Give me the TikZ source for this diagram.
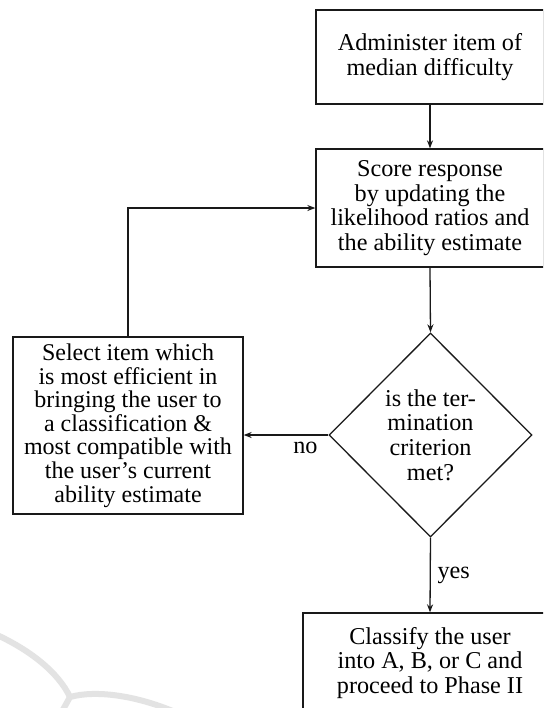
\documentclass[tikz,border=0pt]{standalone}
\usepackage{fontspec}
\setmainfont{Liberation Serif}
\usetikzlibrary{shapes.geometric,arrows.meta}
\begin{document}
\begin{tikzpicture}[x=0.5pt,y=-0.5pt,
  every node/.style={font=\fontsize{12.1pt}{12.4pt}\selectfont},
  box/.style={draw=black!90,line width=0.65pt,align=center,inner sep=0pt},
  tight/.style={font=\fontsize{12pt}{11.8pt}\selectfont},
  dec/.style={draw=black!90,line width=0.65pt,align=center,diamond,inner sep=0pt,minimum width=101.5pt,minimum height=102pt},
  arr/.style={draw=black!90,line width=0.65pt,-{Stealth[length=4pt,width=3pt]}},
  wm/.style={draw=black!11,line width=3pt}]
\useasboundingbox (0,0) rectangle (543,708);
\clip (0,0) rectangle (543,708);
\fill[white] (0,0) rectangle (543,708);
% faint watermark arcs
\draw[wm] (-5,634) .. controls (30,650) and (58,672) .. (70,697);
\draw[wm] (70,697) .. controls (95,690) and (135,695) .. (175,712);
\draw[wm] (70,697) -- (60,715);
% nodes
\node[box,minimum width=114pt,minimum height=47pt] (adm) at (430,57) {Administer item of\\median difficulty};
\node[box,minimum width=114pt,minimum height=59pt] (score) at (430,208) {Score response\\by updating the\\likelihood ratios and\\the ability estimate};
\node[dec] (crit) at (430.5,435) {is the ter-\\mination\\criterion\\met?};
\node[box,tight,minimum width=115pt,minimum height=88.5pt] (sel) at (128,425.5) {Select item which\\is most efficient in\\bringing the user to\\a classification \&\\most compatible with\\the user’s current\\ability estimate};
\node[box,minimum width=127pt,minimum height=50pt] (cls) at (430,663) {Classify the user\\into A, B, or C and\\proceed to Phase II};
% connectors
\draw[arr] (adm.south) -- (score.north);
\draw[arr] (score.south) -- (crit.north);
\draw[arr] (crit.west) -- node[below,pos=0.27] {no} (sel.east |- crit.west);
\draw[arr] (crit.south) -- node[right] {yes} (cls.north);
\draw[arr] (sel.north) -- (sel.north |- score.west) -- (score.west);
\end{tikzpicture}
\end{document}
